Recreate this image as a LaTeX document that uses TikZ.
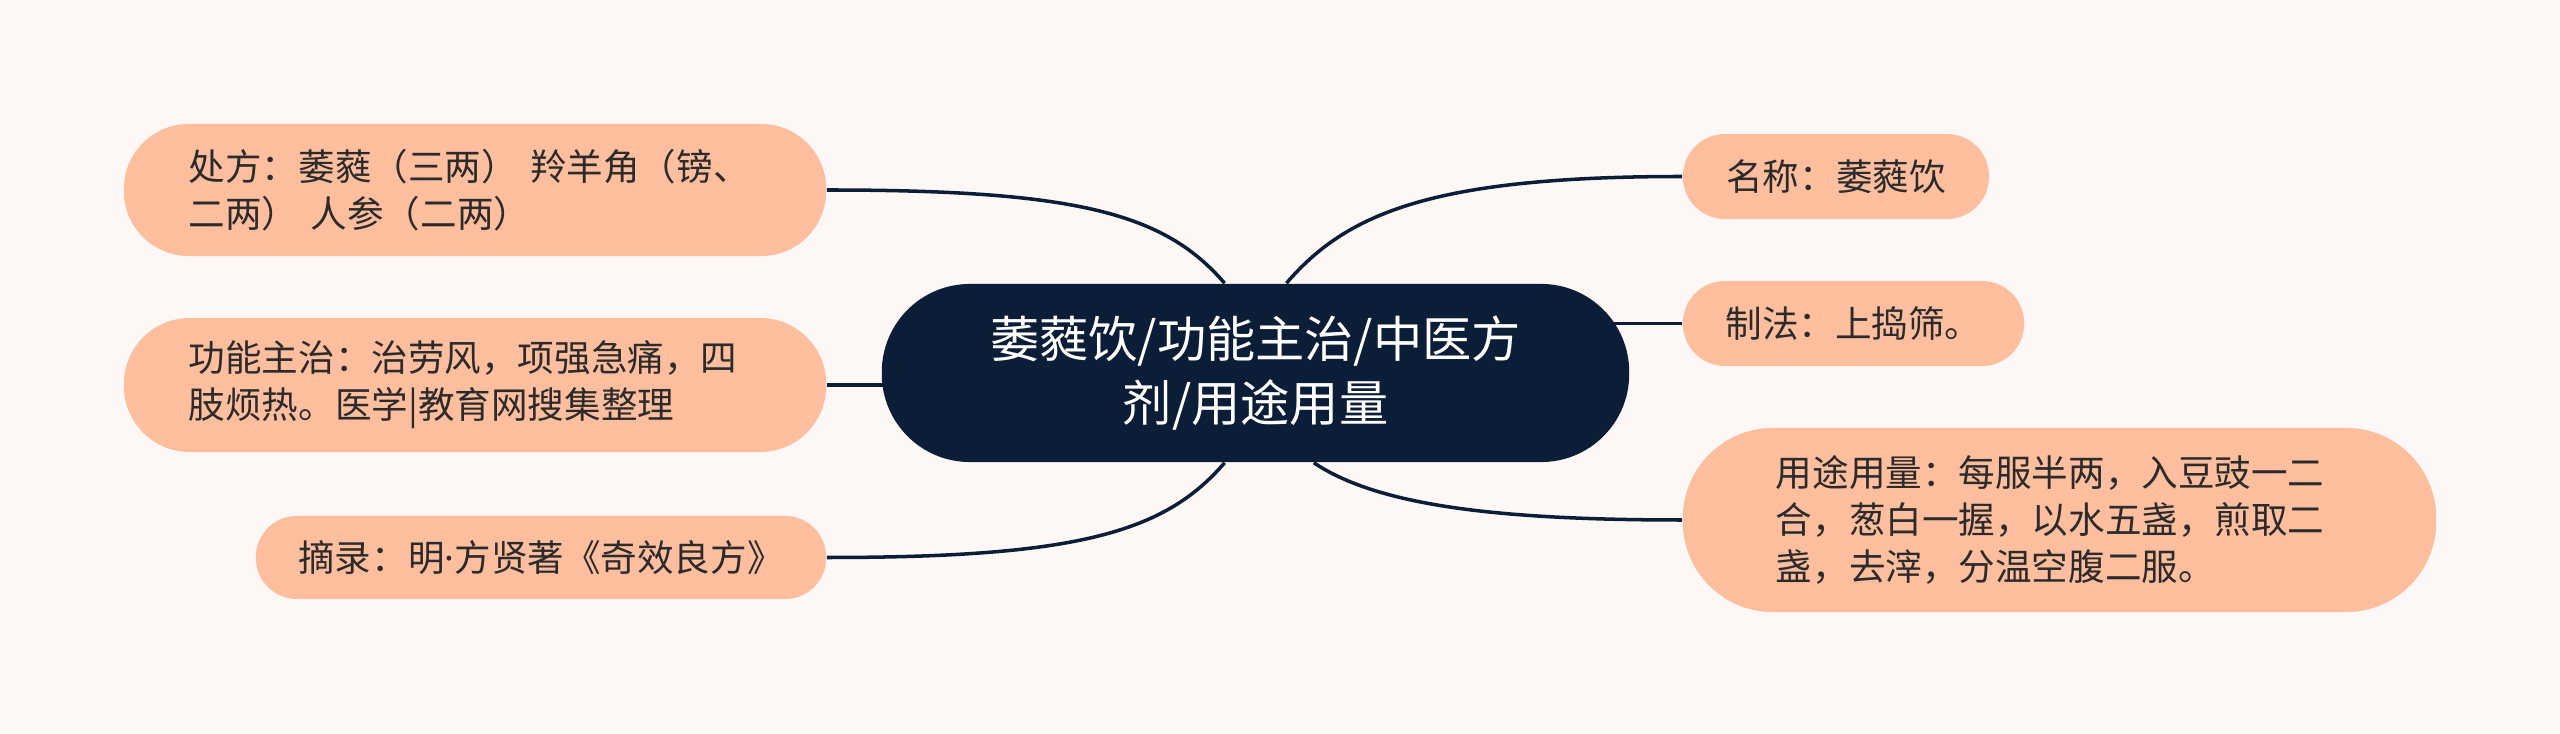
\documentclass[tikz,border=0pt]{standalone}
\usepackage{fontspec}
\newfontfamily\cjk{Noto Sans CJK SC}
\newfontfamily\latin{Noto Sans}
\usetikzlibrary{backgrounds}
\definecolor{navy}{HTML}{0C1E37}
\definecolor{peach}{HTML}{FFBF9F}
\definecolor{ink}{HTML}{2B2B2B}
\definecolor{paper}{HTML}{FDF8F6}
\begin{document}
\begin{tikzpicture}[x=0.01cm,y=-0.01cm,
    root/.style={fill=navy,text=white,font=\cjk\fontsize{14}{18}\selectfont,align=center,inner sep=0pt},
    leaf/.style={fill=peach,text=ink,font=\cjk\fontsize{10.4}{13.4}\selectfont,align=left,inner sep=0pt},
    link/.style={draw=navy,line width=1pt}]
    \useasboundingbox (0,0) rectangle (2560,734);
    \node[root,minimum width=7.47cm,minimum height=1.78cm,rounded corners=0.88cm] (main) at (1255.5,373) {萎蕤饮/功能主治/中医方\\剂/用途用量};
    % left side
    \node[leaf,minimum width=7.02cm,minimum height=1.32cm,text width=5.72cm,rounded corners=0.65cm] (recipe) at (475,190) {处方：萎蕤（三两） 羚羊角（镑、\\二两） 人参（二两）};
    \node[leaf,minimum width=7.02cm,minimum height=1.34cm,text width=5.72cm,rounded corners=0.66cm] (effect) at (475,385) {功能主治：治劳风，项强急痛，四\\肢烦热。医学|教育网搜集整理};
    \node[leaf,minimum width=5.70cm,minimum height=0.83cm,rounded corners=0.41cm] (source) at (541,557.5) {摘录：明{\latin ·}方贤著《奇效良方》};
    % right side
    \node[leaf,minimum width=3.06cm,minimum height=0.85cm,rounded corners=0.42cm] (name) at (1836,176.5) {名称：萎蕤饮};
    \node[leaf,minimum width=3.41cm,minimum height=0.85cm,rounded corners=0.42cm] (make) at (1853.5,323.5) {制法：上捣筛。};
    \node[leaf,minimum width=7.53cm,minimum height=1.84cm,text width=5.67cm,rounded corners=0.9cm] (usage) at (2059.5,520) {用途用量：每服半两，入豆豉一二\\合，葱白一握，以水五盏，煎取二\\盏，去滓，分温空腹二服。};
    \begin{scope}[on background layer]
      \fill[paper] (0,0) rectangle (2560,734);
      \draw[link] (main.109) .. controls +(-60,-70) and +(250,0) .. (recipe.east);
      \draw[link] (main.center |- effect.east) -- (effect.east);
      \draw[link] (main.251) .. controls +(-60,70) and +(250,0) .. (source.east);
      \draw[link] (main.71) .. controls +(60,-70) and +(-250,0) .. (name.west);
      \draw[link] (main.center |- make.west) -- (make.west);
      \draw[link] (main.303.5) .. controls +(60,40) and +(-200,0) .. (usage.west);
    \end{scope}
\end{tikzpicture}
\end{document}
